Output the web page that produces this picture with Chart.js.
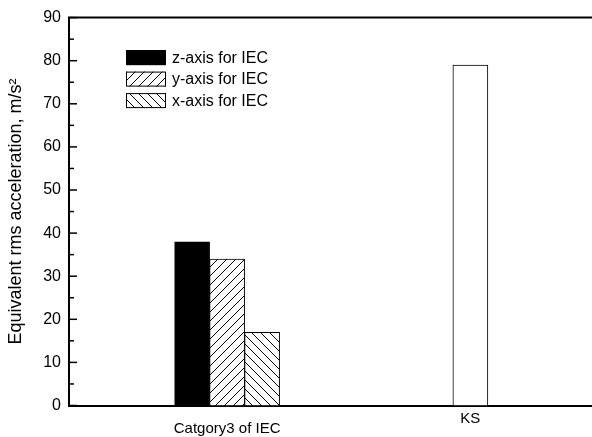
<!DOCTYPE html>
<html><head><meta charset="utf-8">
<style>html,body{margin:0;padding:0;background:#fff}#wrap{width:592px;height:437px}</style>
<script src="https://cdn.jsdelivr.net/npm/chart.js@4/dist/chart.umd.min.js"></script>
</head><body><div id="wrap"><canvas id="c" width="592" height="437"></canvas></div>
<script>
// ---- data ----
const categories = ['Catgory3 of IEC', 'KS'];
const categoryPositions = [1, 2];
const seriesNames = ['z-axis for IEC', 'y-axis for IEC', 'x-axis for IEC', 'KS'];
const zAxisIEC = [38, null];
const yAxisIEC = [34, null];
const xAxisIEC = [17, null];
const ksValues = [null, 79];
const yTickValues = [0, 10, 20, 30, 40, 50, 60, 70, 80, 90];
const yAxisTitle = 'Equivalent rms acceleration, m/s\u00B2';
const legendSeries = [0, 1, 2];

const canvas = document.getElementById('c');
const ctx = canvas.getContext('2d');
const FONT = 'Arial, "Liberation Sans", Helvetica, sans-serif';

function hatch(dir) {
  const s = 9;
  const t = document.createElement('canvas');
  t.width = s; t.height = s;
  const g = t.getContext('2d');
  g.fillStyle = '#fff'; g.fillRect(0, 0, s, s);
  g.strokeStyle = '#000'; g.lineWidth = 1;
  g.beginPath();
  if (dir > 0) {
    g.moveTo(-1, s + 1); g.lineTo(s + 1, -1);
    g.moveTo(-1, 1); g.lineTo(1, -1);
    g.moveTo(s - 1, s + 1); g.lineTo(s + 1, s - 1);
  } else {
    g.moveTo(-1, -1); g.lineTo(s + 1, s + 1);
    g.moveTo(s - 1, -1); g.lineTo(s + 1, 1);
    g.moveTo(-1, s - 1); g.lineTo(1, s + 1);
  }
  g.stroke();
  return ctx.createPattern(t, 'repeat');
}

const fills = ['#000', hatch(1), hatch(-1), '#fff'];
const seriesValues = [zAxisIEC, yAxisIEC, xAxisIEC, ksValues];

const datasets = seriesValues.map((vals, i) => ({
  label: seriesNames[i],
  data: vals.map((v, j) => ({ x: categoryPositions[j], y: v })),
  backgroundColor: fills[i],
  borderColor: '#000',
  borderWidth: 1,
  barThickness: 35,
  skipNull: true
}));

const frameAndTicks = {
  id: 'frameAndTicks',
  afterDraw(chart) {
    const a = chart.chartArea;
    const c = chart.ctx;
    const ys = chart.scales.y;
    c.save();
    c.strokeStyle = '#000';
    c.lineWidth = 2;
    c.beginPath();
    c.moveTo(a.left - 1, a.top);
    c.lineTo(a.right, a.top);
    c.stroke();
    c.lineWidth = 1.5;
    for (let v = ys.min; v <= ys.max; v += 5) {
      const y = ys.getPixelForValue(v);
      const len = (v % 10 === 0) ? 8 : 5;
      c.beginPath();
      c.moveTo(a.left, y);
      c.lineTo(a.left + len, y);
      c.stroke();
    }
    // legend
    c.font = '16px ' + FONT;
    c.textBaseline = 'middle';
    c.textAlign = 'left';
    legendSeries.forEach((di, k) => {
      const ds = chart.data.datasets[di];
      const bx = a.left + 57, by = a.top + 32.5 + k * 21.5;
      c.fillStyle = ds.backgroundColor;
      c.fillRect(bx, by, 40, 15);
      c.lineWidth = 1;
      c.strokeStyle = '#000';
      c.strokeRect(bx + 0.5, by + 0.5, 39, 14);
      c.fillStyle = '#000';
      c.fillText(ds.label, bx + 46, by + 8);
    });
    c.restore();
  }
};

new Chart(canvas, {
  type: 'bar',
  data: { datasets },
  options: {
    responsive: false,
    animation: false,
    devicePixelRatio: 1,
    layout: { padding: { top: 14.5, right: 0, left: 0, bottom: 0 } },
    plugins: { legend: { display: false }, tooltip: { enabled: false } },
    scales: {
      x: {
        type: 'linear',
        offset: false,
        min: 0.35,
        max: 2.5,
        afterBuildTicks: (s) => { s.ticks = categoryPositions.map(v => ({ value: v })); },
        afterFit: (s) => { s.height = 31.5; },
        grid: { display: false, drawTicks: false, offset: false },
        border: { display: true, color: '#000', width: 2 },
        ticks: {
          autoSkip: false,
          maxRotation: 0,
          padding: 8,
          color: '#000',
          font: { family: FONT, size: 15, lineHeight: 0.68 },
          callback: (v) => {
            const i = categoryPositions.indexOf(v);
            if (i < 0) return '';
            return i === 0 ? ['', categories[i]] : categories[i];
          }
        }
      },
      y: {
        min: 0,
        max: 90,
        afterBuildTicks: (s) => { s.ticks = yTickValues.map(v => ({ value: v })); },
        afterFit: (s) => { s.width = 69; },
        grid: { display: false, drawTicks: false },
        border: { display: true, color: '#000', width: 2 },
        ticks: { padding: 8, color: '#000', font: { family: FONT, size: 16 } },
        title: {
          display: true,
          text: yAxisTitle,
          color: '#000',
          font: { family: FONT, size: 18 },
          padding: { top: 5, bottom: 0 }
        }
      }
    }
  },
  plugins: [frameAndTicks]
});
</script></body></html>
